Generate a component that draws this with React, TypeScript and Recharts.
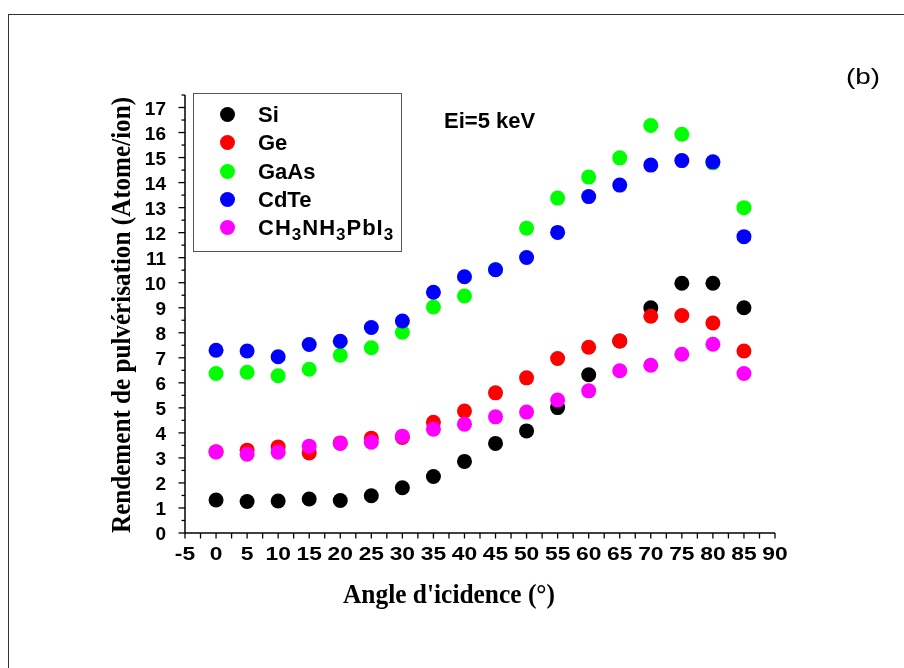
import { ScatterChart, Scatter, XAxis, YAxis, Legend, Label } from "recharts";

const angles = [0, 5, 10, 15, 20, 25, 30, 35, 40, 45, 50, 55, 60, 65, 70, 75, 80, 85];
const siYield = [1.32, 1.26, 1.28, 1.36, 1.3, 1.49, 1.81, 2.26, 2.86, 3.58, 4.08, 5.01, 6.32, 7.67, 9.0, 9.98, 9.98, 9.0];
const geYield = [3.25, 3.31, 3.44, 3.2, 3.6, 3.79, 3.82, 4.42, 4.87, 5.6, 6.2, 6.97, 7.42, 7.67, 8.66, 8.69, 8.39, 7.27];
const gaasYield = [6.37, 6.42, 6.28, 6.54, 7.1, 7.4, 8.02, 9.03, 9.47, 10.53, 12.18, 13.38, 14.22, 14.99, 16.28, 15.93, 14.79, 13.0];
const cdteYield = [7.3, 7.27, 7.04, 7.53, 7.66, 8.21, 8.47, 9.62, 10.24, 10.52, 11.01, 12.01, 13.44, 13.9, 14.7, 14.88, 14.83, 11.84];
const mapiYield = [3.24, 3.15, 3.23, 3.47, 3.58, 3.63, 3.87, 4.15, 4.35, 4.64, 4.83, 5.31, 5.68, 6.48, 6.7, 7.14, 7.54, 6.37];

const seriesNames = ["Si", "Ge", "GaAs", "CdTe", "CH3NH3PbI3"];
const seriesColors = ["#000000", "#ff0000", "#00ff00", "#0000ff", "#ff00ff"];
const seriesValues = [siYield, geYield, gaasYield, cdteYield, mapiYield];

const xTicks = [-5, -2.5, 0, 2.5, 5, 7.5, 10, 12.5, 15, 17.5, 20, 22.5, 25, 27.5, 30, 32.5, 35, 37.5, 40, 42.5, 45, 47.5, 50, 52.5, 55, 57.5, 60, 62.5, 65, 67.5, 70, 72.5, 75, 77.5, 80, 82.5, 85, 87.5, 90];
const yTicks = [0, 0.5, 1, 1.5, 2, 2.5, 3, 3.5, 4, 4.5, 5, 5.5, 6, 6.5, 7, 7.5, 8, 8.5, 9, 9.5, 10, 10.5, 11, 11.5, 12, 12.5, 13, 13.5, 14, 14.5, 15, 15.5, 16, 16.5, 17, 17.5];

const SANS = "'Liberation Sans', Arial, sans-serif";
const SERIF = "'Liberation Serif', 'Times New Roman', serif";

function XTick(props: any) {
  const { x, y, payload } = props;
  const v = payload.value;
  const major = v % 5 === 0;
  return (
    <g>
      <line x1={x} x2={x} y1={y} y2={y + 5.5} stroke="#000" strokeWidth={1.3} />
      {major && (
        <text
          transform={`translate(${x},${y + 27}) scale(1.2,1)`}
          textAnchor="middle"
          fontFamily={SANS}
          fontWeight="bold"
          fontSize={19}
          fill="#000"
        >
          {v}
        </text>
      )}
    </g>
  );
}

function YTick(props: any) {
  const { x, y, payload } = props;
  const v = payload.value;
  const major = Number.isInteger(v);
  return (
    <g>
      <line x1={x - (major ? 6.5 : 3.5)} x2={x} y1={y} y2={y} stroke="#000" strokeWidth={1.3} />
      {major && (
        <text x={x - 19} y={y + 7} textAnchor="end" fontFamily={SANS} fontWeight="bold" fontSize={19} fill="#000">
          {v}
        </text>
      )}
    </g>
  );
}

function legendLabel(name: string) {
  if (name !== "CH3NH3PbI3") return name;
  const sub = { fontSize: 17, position: "relative" as const, top: 5 };
  return (
    <span style={{ letterSpacing: 1 }}>
      CH<span style={sub}>3</span>NH<span style={sub}>3</span>PbI<span style={sub}>3</span>
    </span>
  );
}

function LegendBox(props: any) {
  const items = [...(props.payload || [])].sort(
    (a: any, b: any) => seriesNames.indexOf(a.value) - seriesNames.indexOf(b.value)
  );
  return (
    <div
      style={{
        position: "relative",
        width: 209,
        height: 159,
        boxSizing: "border-box",
        border: "1px solid #555",
        background: "#fff",
        fontFamily: SANS,
        fontWeight: "bold",
        fontSize: 22,
      }}
    >
      {items.map((item: any, i: number) => {
        const name = item.value;
        const idx = seriesNames.indexOf(name);
        const top = 20.3 + i * 28.35;
        return (
          <div key={name}>
            <span
              style={{
                position: "absolute",
                left: 33.7 - 7.5,
                top: top - 7.5,
                width: 15,
                height: 15,
                borderRadius: "50%",
                background: seriesColors[idx],
              }}
            />
            <span style={{ position: "absolute", left: 64, top: top - 12.5, lineHeight: "25px", whiteSpace: "nowrap", color: "#000" }}>
              {legendLabel(name)}
            </span>
          </div>
        );
      })}
    </div>
  );
}

export default function App() {
  return (
    <div style={{ position: "relative", width: 888, height: 652, background: "#fff" }}>
      <div
        style={{
          position: "fixed",
          left: 8,
          top: 14,
          width: 904,
          height: 668,
          borderTop: "1px solid #333",
          borderLeft: "1px solid #333",
          pointerEvents: "none",
        }}
      />
      <ScatterChart width={888} height={652} margin={{ top: 87, right: 121, bottom: 0, left: 0 }}>
        <XAxis
          type="number"
          dataKey="angle"
          domain={[-5, 90]}
          ticks={xTicks}
          interval={0}
          height={127}
          tickSize={0}
          tickMargin={0}
          tickLine={false}
          tick={XTick}
          axisLine={{ stroke: "#000", strokeWidth: 1.5 }}
        >
          <Label
            content={(p: any) => {
              const vb = p.viewBox || { x: 177, y: 525, width: 590, height: 127 };
              return (
                <text
                  x={vb.x + vb.width / 2 - 31}
                  y={vb.y + 70}
                  textAnchor="middle"
                  fontFamily={SERIF}
                  fontWeight="bold"
                  fontSize={27}
                  textLength={212}
                  lengthAdjust="spacingAndGlyphs"
                  fill="#000"
                >
                  Angle d'icidence (°)
                </text>
              );
            }}
          />
        </XAxis>
        <YAxis
          type="number"
          dataKey="value"
          domain={[0, 17.5]}
          ticks={yTicks}
          interval={0}
          width={177}
          tickSize={0}
          tickMargin={0}
          tickLine={false}
          tick={YTick}
          axisLine={{ stroke: "#000", strokeWidth: 1.5 }}
        >
          <Label
            content={(p: any) => {
              const vb = p.viewBox || { x: 0, y: 87, width: 177, height: 438 };
              const cx = vb.x + 122;
              const cy = vb.y + vb.height / 2 + 1;
              return (
                <text
                  x={cx}
                  y={cy}
                  transform={`rotate(-90, ${cx}, ${cy})`}
                  textAnchor="middle"
                  fontFamily={SERIF}
                  fontWeight="bold"
                  fontSize={28}
                  textLength={436}
                  lengthAdjust="spacingAndGlyphs"
                  fill="#000"
                >
                  Rendement de pulvérisation (Atome/ion)
                </text>
              );
            }}
          />
        </YAxis>
        <Legend
          layout="vertical"
          align="center"
          verticalAlign="middle"
          wrapperStyle={{ left: 185, top: 85, width: 209, height: 159 }}
          content={LegendBox}
        />
        {seriesNames.map((name, s) => (
          <Scatter
            key={name}
            name={name}
            data={angles.map((a, i) => ({ angle: a, value: seriesValues[s][i] }))}
            fill={seriesColors[s]}
            isAnimationActive={false}
            shape={(p: any) => <circle cx={p.cx} cy={p.cy} r={7.5} fill={seriesColors[s]} />}
          />
        ))}
      </ScatterChart>
      <svg width={888} height={652} style={{ position: "absolute", left: 0, top: 0, pointerEvents: "none" }}>
        <text x={436} y={120} fontFamily={SANS} fontWeight="bold" fontSize={22} fill="#000">
          Ei=5 keV
        </text>
        <text x={838} y={76} fontFamily={SANS} fontSize={22} textLength={34} lengthAdjust="spacingAndGlyphs" fill="#000">
          (b)
        </text>
      </svg>
    </div>
  );
}
